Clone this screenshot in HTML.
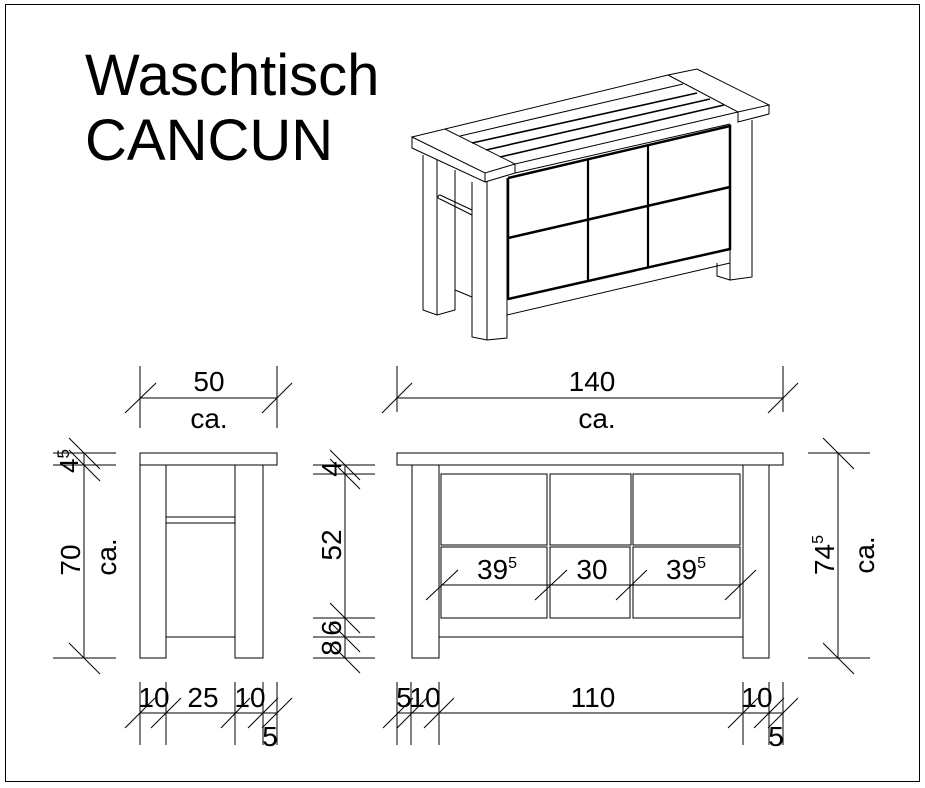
<!DOCTYPE html>
<html><head><meta charset="utf-8"><style>
html,body{margin:0;padding:0;background:#fff;}
svg{display:block;}
text{font-family:"Liberation Sans",Arial,sans-serif;fill:#000;}
</style></head><body>
<svg width="925" height="788" viewBox="0 0 925 788" xmlns="http://www.w3.org/2000/svg">
<rect x="5.5" y="4.5" width="914" height="777" fill="none" stroke="#000" stroke-width="1"/>
<text x="85" y="95" font-size="58">Waschtisch</text>
<text x="85" y="160" font-size="58">CANCUN</text>

<g fill="none" stroke="#000" stroke-width="1">
<polygon points="412,137 445,129 515,164 485,173" fill="#fff"/>
<polyline points="412,137 412,148 485,182 485,173"/>
<line x1="485" y1="182" x2="515" y2="173"/><line x1="515" y1="164" x2="515" y2="173"/>
<line x1="445" y1="129" x2="668" y2="75"/>
<line x1="515" y1="164" x2="738" y2="112"/>
<line x1="515" y1="173" x2="730" y2="124"/>
<line x1="472" y1="143" x2="697" y2="93" stroke-width="1.6"/>
<line x1="486" y1="150" x2="710" y2="99" stroke-width="1.6"/>
<line x1="500" y1="157" x2="724" y2="105" stroke-width="1.6"/>
<line x1="460" y1="136" x2="683" y2="84"/>
<polyline points="668,75 697,69 769,105 738,112 668,75"/>
<polyline points="738,112 738,122 769,114 769,105"/>
<polyline points="472,182 472,337 487,340 507,338 507,178"/>
<line x1="487" y1="181" x2="487" y2="340"/>
<polyline points="423,155 423,310 437,315 455,310 455,170"/>
<line x1="437" y1="160" x2="437" y2="315"/>
<polyline points="455,290 472,297"/>
<polyline points="440,195 472,210"/><polyline points="440,199 472,215"/>
<path d="M440,195 a2,2 0 0 0 0,4"/>
<polyline points="730,124 730,280 752,277 752,120"/>
<polyline points="717,263 717,276 730,280"/>
<line x1="508" y1="178" x2="508" y2="300" stroke-width="2.5"/>
<line x1="730" y1="125" x2="730" y2="250" stroke-width="2.5"/>
<line x1="508" y1="178" x2="730" y2="126" stroke-width="2.5"/>
<line x1="508" y1="238" x2="730" y2="187" stroke-width="2.5"/>
<line x1="508" y1="299" x2="730" y2="249" stroke-width="2.5"/>
<line x1="507" y1="315" x2="730" y2="263"/>
<line x1="588" y1="160" x2="588" y2="280" stroke-width="2.2"/>
<line x1="648" y1="145" x2="648" y2="267" stroke-width="2.2"/>

<rect x="140" y="453" width="137" height="12"/>
<polyline points="140,465 140,658 166,658 166,465"/>
<polyline points="235,465 235,658 263,658 263,465"/>
<line x1="166" y1="517" x2="235" y2="517"/><line x1="166" y1="523" x2="235" y2="523"/>
<line x1="166" y1="637" x2="235" y2="637"/>
<line x1="140" y1="366" x2="140" y2="428"/><line x1="277" y1="366" x2="277" y2="428"/>
<line x1="140" y1="398" x2="277" y2="398"/>
<line x1="125" y1="413" x2="156" y2="383"/><line x1="262" y1="413" x2="292" y2="383"/>
<line x1="84" y1="453" x2="84" y2="658"/>
<line x1="53" y1="453" x2="116" y2="453"/><line x1="53" y1="465" x2="116" y2="465"/><line x1="53" y1="658" x2="116" y2="658"/>
<line x1="69" y1="438" x2="100" y2="469"/><line x1="69" y1="450" x2="100" y2="481"/><line x1="69" y1="643" x2="100" y2="674"/>
<line x1="345" y1="465" x2="345" y2="658"/>
<line x1="313" y1="465" x2="375" y2="465"/><line x1="313" y1="474" x2="375" y2="474"/>
<line x1="313" y1="618" x2="375" y2="618"/><line x1="313" y1="637" x2="375" y2="637"/><line x1="313" y1="658" x2="375" y2="658"/>
<line x1="330" y1="450" x2="360" y2="480"/><line x1="330" y1="459" x2="360" y2="489"/>
<line x1="330" y1="603" x2="360" y2="633"/><line x1="330" y1="622" x2="360" y2="652"/><line x1="330" y1="643" x2="360" y2="673"/>
<line x1="140" y1="713" x2="277" y2="713"/>
<line x1="140" y1="682" x2="140" y2="745"/><line x1="166" y1="682" x2="166" y2="745"/>
<line x1="235" y1="682" x2="235" y2="745"/><line x1="263" y1="682" x2="263" y2="745"/><line x1="277" y1="682" x2="277" y2="745"/>
<line x1="125" y1="728" x2="155" y2="698"/><line x1="151" y1="728" x2="181" y2="698"/>
<line x1="221" y1="728" x2="250" y2="698"/><line x1="248" y1="728" x2="278" y2="698"/><line x1="262" y1="728" x2="292" y2="698"/>

<rect x="397" y="453" width="386" height="12"/>
<polyline points="412,465 412,658 439,658 439,465"/>
<polyline points="743,465 743,658 769,658 769,465"/>
<line x1="439" y1="637" x2="743" y2="637"/>
<rect x="441" y="474" width="106" height="71"/><rect x="550" y="474" width="81" height="71"/><rect x="633" y="474" width="107" height="71"/>
<rect x="441" y="547" width="106" height="71"/><rect x="550" y="547" width="80" height="71"/><rect x="633" y="547" width="107" height="71"/>
<line x1="441" y1="585" x2="741" y2="585"/>
<line x1="426" y1="600" x2="458" y2="570"/><line x1="535" y1="600" x2="567" y2="570"/>
<line x1="616" y1="600" x2="647" y2="570"/><line x1="725" y1="600" x2="756" y2="570"/>
<line x1="397" y1="366" x2="397" y2="412"/><line x1="783" y1="366" x2="783" y2="412"/>
<line x1="397" y1="398" x2="783" y2="398"/>
<line x1="382" y1="413" x2="412" y2="383"/><line x1="768" y1="413" x2="798" y2="383"/>
<line x1="838" y1="453" x2="838" y2="658"/>
<line x1="808" y1="453" x2="870" y2="453"/><line x1="808" y1="658" x2="870" y2="658"/>
<line x1="823" y1="438" x2="854" y2="469"/><line x1="823" y1="643" x2="854" y2="674"/>
<line x1="397" y1="713" x2="783" y2="713"/>
<line x1="397" y1="682" x2="397" y2="745"/><line x1="411" y1="682" x2="411" y2="745"/><line x1="439" y1="682" x2="439" y2="745"/>
<line x1="743" y1="682" x2="743" y2="745"/><line x1="769" y1="682" x2="769" y2="745"/><line x1="783" y1="682" x2="783" y2="745"/>
<line x1="383" y1="728" x2="413" y2="698"/><line x1="397" y1="728" x2="427" y2="698"/><line x1="424" y1="728" x2="454" y2="698"/>
<line x1="728" y1="728" x2="758" y2="698"/><line x1="754" y1="728" x2="784" y2="698"/><line x1="768" y1="728" x2="798" y2="698"/>
</g>

<g font-size="28" text-anchor="middle">
<text x="209" y="391">50</text><text x="209" y="428">ca.</text>
<text x="592" y="391">140</text><text x="597" y="428">ca.</text>
<text transform="translate(80,560) rotate(-90)">70</text>
<text transform="translate(116,557) rotate(-90)">ca.</text>
<text transform="translate(78,461) rotate(-90)" font-size="26">4<tspan font-size="17" dy="-9">5</tspan></text>
<text transform="translate(341,469) rotate(-90)">4</text>
<text transform="translate(341,545) rotate(-90)">52</text>
<text transform="translate(341,628) rotate(-90)">6</text>
<text transform="translate(341,648) rotate(-90)">8</text>
<text x="154" y="707">10</text><text x="203" y="707">25</text><text x="250" y="707">10</text><text x="270" y="746">5</text>
<text x="404" y="707">5</text><text x="425" y="707">10</text><text x="593" y="707">110</text><text x="757" y="707">10</text><text x="776" y="746">5</text>
<text x="497" y="579">39<tspan font-size="16" dy="-11">5</tspan></text>
<text x="592" y="579">30</text>
<text x="686" y="579">39<tspan font-size="16" dy="-11">5</tspan></text>
<text transform="translate(834,555) rotate(-90)">74<tspan font-size="16" dy="-11">5</tspan></text>
<text transform="translate(874,555) rotate(-90)">ca.</text>
</g>
</svg>
</body></html>
